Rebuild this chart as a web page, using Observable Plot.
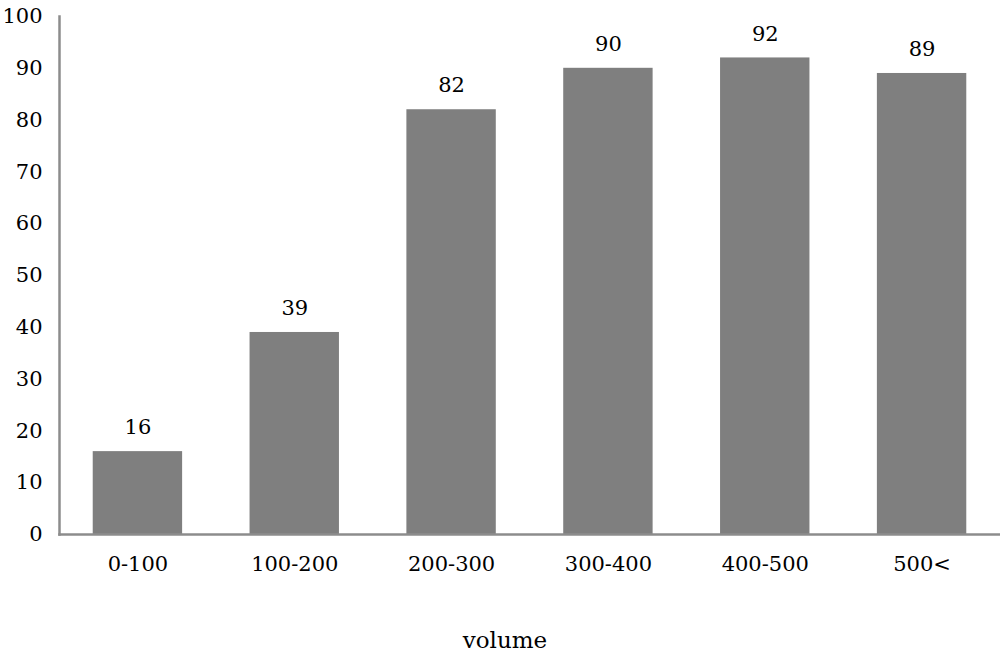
<!DOCTYPE html>
<html>
<head>
<meta charset="utf-8">
<script src="https://cdn.jsdelivr.net/npm/d3@7"></script>
<script src="https://cdn.jsdelivr.net/npm/@observablehq/plot@0.6"></script>
<style>
  html, body { margin: 0; padding: 0; background: #fff; }
  #chart svg { display: block; }
</style>
</head>
<body>
<div id="chart"></div>
<script>
const categories = ["0-100", "100-200", "200-300", "300-400", "400-500", "500<"];
const values = [16, 39, 82, 90, 92, 89];
const yTicks = [0, 10, 20, 30, 40, 50, 60, 70, 80, 90, 100];
const xTitle = "volume";

const data = categories.map((c, i) => ({category: c, value: values[i]}));
const font = "'DejaVu Serif', serif";

const chart = Plot.plot({
  width: 1000,
  height: 656,
  marginLeft: 59,
  marginRight: 0,
  marginTop: 16,
  marginBottom: 122,
  style: {fontFamily: font, fontSize: "21px", color: "#000", background: "#fff"},
  x: {domain: categories, paddingInner: 0.43, paddingOuter: 0.215, round: false, label: null},
  y: {domain: [0, 100], ticks: yTicks, label: null},
  marks: [
    Plot.barY(data, {x: "category", y: "value", fill: "#7f7f7f"}),
    Plot.frame({anchor: "left", stroke: "#8c8c8c", strokeWidth: 2.5}),
    Plot.frame({anchor: "bottom", stroke: "#8c8c8c", strokeWidth: 2.5}),
    Plot.axisY({ticks: yTicks, tickSize: 0, tickPadding: 17, label: null, fontSize: 21}),
    Plot.axisX({tickSize: 0, tickPadding: 22, label: null, fontSize: 21}),
    Plot.text(data, {x: "category", y: "value", text: d => String(d.value), dy: -24, lineAnchor: "middle", fontSize: 21, fill: "#000"}),
    Plot.text([xTitle], {frameAnchor: "bottom", text: d => d, dy: 106, dx: -25, lineAnchor: "middle", fontSize: 23, fill: "#000"})
  ]
});
document.getElementById("chart").appendChild(chart);
</script>
</body>
</html>
